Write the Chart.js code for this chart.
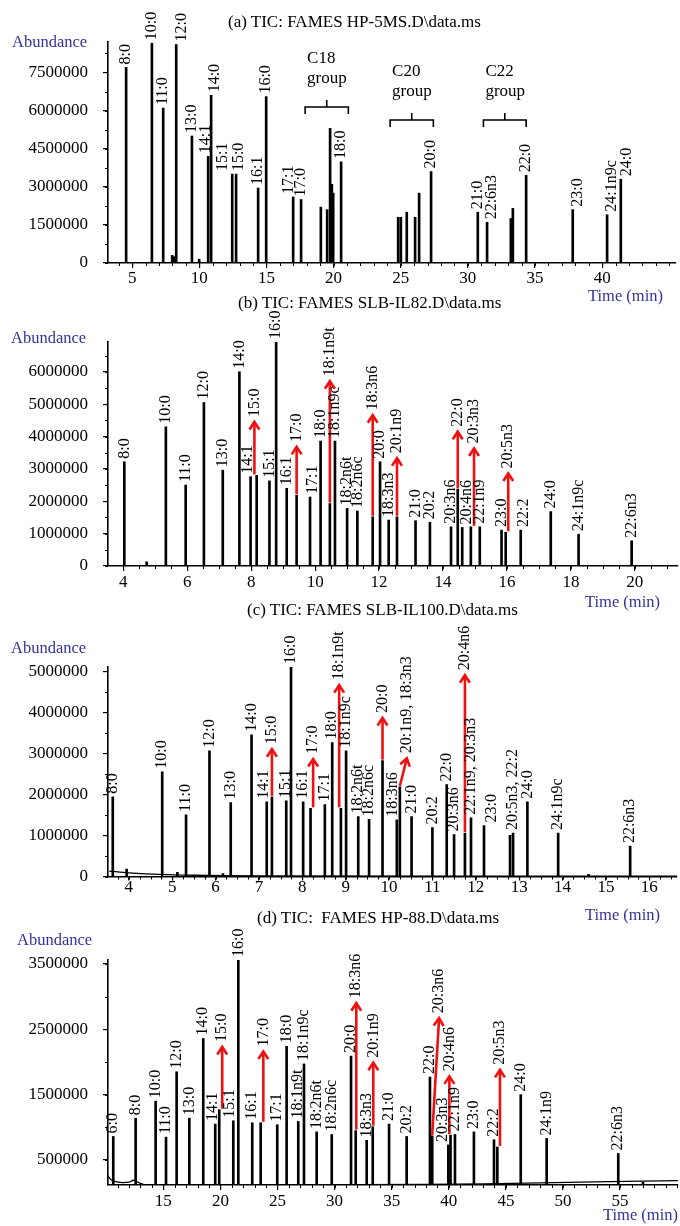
<!DOCTYPE html>
<html><head><meta charset="utf-8">
<script src="https://cdn.jsdelivr.net/npm/chart.js@4.4.1/dist/chart.umd.min.js"></script>
<style>
html,body{margin:0;padding:0;background:#fff;}
#wrap{position:relative;width:680px;height:1226px;overflow:hidden;background:#fff;}
canvas{position:absolute;left:0;}
.t{position:absolute;white-space:pre;font-family:'Liberation Serif','Times New Roman',serif;line-height:1;z-index:2;}
.title{font-size:17px;color:#000;}
.ab{font-size:16.5px;color:#33339c;}
</style></head><body><div id="wrap">
<canvas id="ca" width="680" height="290" style="top:0px"></canvas>
<canvas id="cb" width="680" height="300" style="top:290px"></canvas>
<canvas id="cc" width="680" height="310" style="top:590px"></canvas>
<canvas id="cd" width="680" height="326" style="top:900px"></canvas>
<div class="t title" style="left:228px;top:13px">(a) TIC: FAMES HP-5MS.D\data.ms</div>
<div class="t ab" style="left:12px;top:34px">Abundance</div>
<div class="t ab" style="left:588px;top:288px">Time (min)</div>
<div class="t title" style="left:238px;top:294px">(b) TIC: FAMES SLB-IL82.D\data.ms</div>
<div class="t ab" style="left:11px;top:330px">Abundance</div>
<div class="t ab" style="left:585px;top:594px">Time (min)</div>
<div class="t title" style="left:247px;top:601px">(c) TIC: FAMES SLB-IL100.D\data.ms</div>
<div class="t ab" style="left:11px;top:640px">Abundance</div>
<div class="t ab" style="left:585px;top:907px">Time (min)</div>
<div class="t title" style="left:257px;top:909px">(d) TIC:  FAMES HP-88.D\data.ms</div>
<div class="t ab" style="left:17px;top:932px">Abundance</div>
<div class="t ab" style="left:603px;top:1207px">Time (min)</div>
</div>
<script>
// ---------- Panel (a) HP-5MS ----------
const peakNamesA = ['8:0','10:0','11:0','','','12:0','13:0','','14:1','14:0','15:1','15:0','16:1','16:0','17:1','17:0','','','','','','18:0','','','','','','20:0','21:0','22:6n3','','','22:0','23:0','24:1n9c','24:0'];
const peakTimesA = [4.55,6.47,7.31,7.98,8.1,8.28,9.45,9.99,10.66,10.88,12.45,12.74,14.38,14.98,16.99,17.58,19.05,19.52,19.74,19.87,19.97,20.56,24.81,25.01,25.45,26.07,26.37,27.26,30.74,31.43,33.2,33.35,34.34,37.81,40.37,41.39];
const peakHeightsA = [7700000,8650000,6100000,300000,250000,8600000,5000000,150000,4200000,6600000,3500000,3500000,2950000,6550000,2600000,2500000,2200000,2100000,5300000,3100000,2750000,3980000,1800000,1800000,2000000,1800000,2750000,3600000,2000000,1600000,1750000,2150000,3450000,2100000,1900000,3300000];
const xTicksA = [5,10,15,20,25,30,35,40];
const yTicksA = [0,1500000,3000000,4500000,6000000,7500000];
const moveNamesA = ['12:0','14:1','14:0','15:1','15:0','17:1','22:6n3','23:0','24:1n9c','24:0'];
const moveDtA = [0.4,-0.15,0.3,-0.7,0.2,-0.35,0.35,0.37,0.37,0.45];
const moveTopA = [null,null,null,null,null,null,null,null,null,null];
const moveSlantA = [0,0,0,0,0,0,0,0,0,0];
const groupNamesA = ['C18','C20','C22'];
const groupStartA = [17.88,24.21,31.16];
const groupEndA = [21.1,27.43,34.34];
const groupLevelA = [6140000,5630000,5630000];

// ---------- Panel (b) SLB-IL82 ----------
const peakNamesB = ['8:0','','10:0','11:0','12:0','13:0','14:0','14:1','15:0','15:1','16:0','16:1','17:0','17:1','18:0','18:1n9t','18:1n9c','18:2n6t','18:2n6c','18:3n6','20:0','18:3n3','20:1n9','21:0','20:2','20:3n6','22:0','20:4n6','20:3n3','22:1n9','23:0','20:5n3','22:2','24:0','24:1n9c','22:6n3'];
const peakTimesB = [4.03,4.73,5.33,5.95,6.52,7.11,7.63,7.98,8.17,8.57,8.78,9.11,9.42,9.84,10.17,10.46,10.62,11.0,11.32,11.8,12.03,12.3,12.56,13.14,13.59,14.25,14.46,14.6,14.87,15.15,15.83,15.96,16.43,17.37,18.24,19.9];
const peakHeightsB = [3220000,130000,4300000,2500000,5050000,2960000,6000000,2760000,2800000,2630000,6920000,2400000,2190000,2130000,3860000,1930000,3860000,1780000,1700000,1520000,3220000,1420000,1520000,1400000,1350000,1210000,2380000,1190000,1210000,1210000,1110000,1040000,1110000,1680000,980000,780000];
const xTicksB = [4,6,8,10,12,14,16,18,20];
const yTicksB = [0,1000000,2000000,3000000,4000000,5000000,6000000];
const moveNamesB = ['14:1','15:0','17:0','17:1','18:1n9t','18:3n6','20:1n9','22:0','20:4n6','20:3n3','20:5n3','22:2'];
const moveDtB = [-0.1,-0.07,0,0.1,0,0,0,0,0.13,0.1,0.08,0.1];
const moveTopB = [null,4450000,3680000,null,5710000,4660000,3330000,4150000,null,3630000,2860000,null];
const moveSlantB = [0,0,0,0,0,0,0,0,0,0,0,0];

// ---------- Panel (c) SLB-IL100 ----------
const peakNamesC = ['8:0','','10:0','','11:0','12:0','','13:0','14:0','14:1','15:0','15:1','16:0','16:1','17:0','17:1','18:0','18:1n9t','18:1n9c','18:2n6t','18:2n6c','20:0','18:3n6','20:1n9, 18:3n3','21:0','20:2','22:0','20:3n6','20:4n6','22:1n9, 20:3n3','23:0','','20:5n3, 22:2','24:0','24:1n9c','','22:6n3'];
const peakTimesC = [3.63,3.95,4.77,5.12,5.32,5.86,6.17,6.35,6.83,7.18,7.3,7.63,7.74,8.02,8.19,8.52,8.69,8.89,9.01,9.29,9.54,9.85,10.18,10.25,10.52,11.0,11.33,11.5,11.75,11.89,12.19,12.79,12.86,13.19,13.9,14.6,15.56];
const peakHeightsC = [1940000,180000,2550000,100000,1500000,3060000,70000,1800000,3450000,1820000,1940000,1840000,5100000,1820000,1660000,1750000,3260000,1660000,3060000,1460000,1390000,2820000,1380000,2180000,1460000,1190000,2240000,1020000,1060000,1430000,1240000,1000000,1060000,1820000,1060000,50000,740000];
const baselineTimesC = [3.55,4.0,4.7,5.5,7.0,16.64];
const baselineValsC = [130000,90000,50000,30000,15000,10000];
const xTicksC = [4,5,6,7,8,9,10,11,12,13,14,15,16];
const yTicksC = [0,1000000,2000000,3000000,4000000,5000000];
const moveNamesC = ['14:1','15:0','17:0','18:1n9t','20:0','18:3n6','20:1n9, 18:3n3','20:4n6','23:0'];
const moveDtC = [-0.06,0,0.06,-0.04,0,-0.09,0.16,0,0.18];
const moveTopC = [null,3100000,2860000,4660000,3860000,null,2880000,4900000,null];
const moveSlantC = [0,0,0,0,0,0,1,0,0];

// ---------- Panel (d) HP-88 ----------
const peakNamesD = ['6:0','8:0','10:0','11:0','12:0','13:0','14:0','14:1','15:0','15:1','16:0','16:1','17:0','17:1','18:0','18:1n9t','18:1n9c','18:2n6t','18:2n6c','20:0','18:3n6','18:3n3','20:1n9','21:0','20:2','22:0','20:3n6','20:3n3','20:4n6','22:1n9','23:0','22:2','20:5n3','24:0','24:1n9','22:6n3',''];
const peakTimesD = [10.62,12.58,14.33,15.24,16.17,17.28,18.5,19.55,19.9,21.13,21.57,22.79,23.53,24.98,25.8,26.82,27.32,28.43,29.75,31.44,31.85,32.81,33.34,34.77,36.31,38.35,38.55,39.96,40.15,40.54,42.2,43.96,44.25,46.3,48.57,54.84,57.0];
const peakHeightsD = [860000,1140000,1400000,850000,1850000,1140000,2360000,1050000,1270000,1100000,3560000,1070000,1070000,1040000,2240000,1090000,1970000,930000,890000,2090000,950000,800000,1010000,1050000,860000,1770000,870000,730000,880000,890000,930000,810000,700000,1500000,830000,600000,160000];
const baselineTimesD = [10.16,10.4,11.0,12.0,12.4,12.9,13.4,38,48,60.07];
const baselineValsD = [260000,200000,160000,160000,190000,150000,120000,125000,150000,185000];
const xTicksD = [15,20,25,30,35,40,45,50,55];
const yTicksD = [500000,1500000,2500000,3500000];
const moveNamesD = ['14:1','15:0','15:1','17:0','18:3n6','20:1n9','20:3n6','20:3n3','20:4n6','20:5n3'];
const moveDtD = [-0.2,0.26,-0.3,0.23,0.05,0.05,0.6,-0.5,-0.1,0.23];
const moveTopD = [null,2230000,null,2160000,2900000,1990000,2670000,null,1780000,1880000];
const moveSlantD = [0,0,0,0,0,0,1,0,0,0];

Chart.defaults.font.family = "'Liberation Serif','Times New Roman',serif";
Chart.defaults.color = '#000';

function drawArrow(ctx, x0, y0, x1, y1) {
  ctx.save();
  ctx.strokeStyle = '#f01010'; ctx.lineWidth = 2.6; ctx.lineCap = 'butt'; ctx.lineJoin = 'miter';
  ctx.beginPath(); ctx.moveTo(x0, y0); ctx.lineTo(x1, y1); ctx.stroke();
  const a = Math.atan2(y1 - y0, x1 - x0), L = 9, w = 0.58;
  ctx.beginPath();
  ctx.moveTo(x1 - L * Math.cos(a - w), y1 - L * Math.sin(a - w));
  ctx.lineTo(x1, y1);
  ctx.lineTo(x1 - L * Math.cos(a + w), y1 - L * Math.sin(a + w));
  ctx.stroke();
  ctx.restore();
}

function makeOverlay(P) {
  return {
    id: 'overlay' + P.key,
    afterDatasetsDraw(chart) {
      const ctx = chart.ctx, xs = chart.scales.x, ys = chart.scales.y;
      ctx.save();
      ctx.strokeStyle = '#000'; ctx.lineWidth = 1;
      for (let k = Math.ceil(xs.min / P.minorX - 1e-9); k * P.minorX <= xs.max + 1e-9; k++) {
        const px = Math.round(xs.getPixelForValue(k * P.minorX)) + 0.5;
        ctx.beginPath(); ctx.moveTo(px, ys.bottom); ctx.lineTo(px, ys.bottom + 3); ctx.stroke();
      }
      for (let k = Math.ceil(ys.min / P.minorY - 1e-9); k * P.minorY <= ys.max + 1e-9; k++) {
        const py = Math.round(ys.getPixelForValue(k * P.minorY)) + 0.5;
        ctx.beginPath(); ctx.moveTo(xs.left, py); ctx.lineTo(xs.left - 3, py); ctx.stroke();
      }
      ctx.font = '16px "Liberation Serif", serif';
      P.names.forEach((name, i) => {
        if (!name) return;
        const t = P.times[i], h = P.heights[i];
        const px = xs.getPixelForValue(t), py = ys.getPixelForValue(h);
        let lx = px, ly = py - 3;
        const k = P.moveNames.indexOf(name);
        if (k >= 0) {
          lx = xs.getPixelForValue(t + P.moveDt[k]);
          if (P.moveTop[k] !== null) {
            const ty = ys.getPixelForValue(P.moveTop[k]);
            drawArrow(ctx, P.moveSlant[k] ? px : lx, py - 1, lx, ty);
            ly = ty - 5;
          }
        }
        ctx.save();
        ctx.translate(lx, ly); ctx.rotate(-Math.PI / 2);
        ctx.textAlign = 'left'; ctx.textBaseline = 'middle'; ctx.fillStyle = '#000';
        ctx.fillText(name, 0, 0);
        ctx.restore();
      });
      if (P.groupNames) {
        ctx.strokeStyle = '#000'; ctx.lineWidth = 1.6; ctx.fillStyle = '#000';
        ctx.font = '17px "Liberation Serif", serif';
        ctx.textAlign = 'left'; ctx.textBaseline = 'alphabetic';
        P.groupNames.forEach((g, i) => {
          const x0 = xs.getPixelForValue(P.groupStart[i]), x1 = xs.getPixelForValue(P.groupEnd[i]);
          const y0 = ys.getPixelForValue(P.groupLevel[i]), mid = (x0 + x1) / 2;
          ctx.beginPath(); ctx.moveTo(x0, y0 + 7); ctx.lineTo(x0, y0); ctx.lineTo(x1, y0); ctx.lineTo(x1, y0 + 7); ctx.stroke();
          ctx.beginPath(); ctx.moveTo(mid, y0); ctx.lineTo(mid, y0 - 7); ctx.stroke();
          ctx.fillText(g, x0 + 2, y0 - 44);
          ctx.fillText('group', x0 + 2, y0 - 24);
        });
      }
      ctx.restore();
    }
  };
}

function makeChart(id, P) {
  const datasets = [{
    type: 'bar',
    data: P.times.map((t, i) => ({ x: t, y: P.heights[i] })),
    backgroundColor: '#000', borderWidth: 0, barThickness: 2, order: 1
  }];
  if (P.baseT) {
    datasets.push({
      type: 'line',
      data: P.baseT.map((t, i) => ({ x: t, y: P.baseV[i] })),
      borderColor: '#000', borderWidth: 1.3, pointRadius: 0, tension: 0.3, order: 0
    });
  }
  return new Chart(document.getElementById(id), {
    type: 'bar',
    data: { datasets },
    options: {
      responsive: false, animation: false, devicePixelRatio: 1,
      layout: { padding: { top: P.padTop, right: P.padRight, left: 0, bottom: 0 } },
      plugins: { legend: { display: false }, tooltip: { enabled: false }, title: { display: false } },
      scales: {
        x: {
          type: 'linear', min: P.xMin, max: P.xMax, offset: false,
          grid: { offset: false, drawOnChartArea: false, drawTicks: true, tickLength: P.xTl, color: '#000', lineWidth: 1.2 },
          border: { display: true, color: '#000', width: 1.5 },
          afterBuildTicks: s => { s.ticks = P.xTicks.map(v => ({ value: v })); },
          afterFit: s => { s.height = P.xAxisH; },
          ticks: { autoSkip: false, maxRotation: 0, padding: P.xPad, color: '#000', font: { size: 17, lineHeight: 1 }, callback: v => String(v) }
        },
        y: {
          type: 'linear', min: P.yMin, max: P.yMax,
          grid: { drawOnChartArea: false, drawTicks: true, tickLength: 5, color: '#000', lineWidth: 1.2 },
          border: { display: true, color: '#000', width: 1.6 },
          afterBuildTicks: s => { s.ticks = P.yTicks.map(v => ({ value: v })); },
          afterFit: s => { s.width = 108; },
          ticks: { padding: 15, color: '#000', font: { size: 17, lineHeight: 1 }, callback: v => String(v) }
        }
      }
    },
    plugins: [makeOverlay(P)]
  });
}

makeChart('ca', {
  key: 'a', names: peakNamesA, times: peakTimesA, heights: peakHeightsA,
  xTicks: xTicksA, yTicks: yTicksA, xMin: 3.2, xMax: 45.5, yMin: 0, yMax: 8700000,
  padTop: 42, padRight: 4, xAxisH: 27, xTl: 5, xPad: 1.7, minorX: 1, minorY: 750000,
  moveNames: moveNamesA, moveDt: moveDtA, moveTop: moveTopA, moveSlant: moveSlantA,
  groupNames: groupNamesA, groupStart: groupStartA, groupEnd: groupEndA, groupLevel: groupLevelA
});
makeChart('cb', {
  key: 'b', names: peakNamesB, times: peakTimesB, heights: peakHeightsB,
  xTicks: xTicksB, yTicks: yTicksB, xMin: 3.52, xMax: 21.35, yMin: 0, yMax: 6920000,
  padTop: 52, padRight: 2, xAxisH: 24, xTl: 5, xPad: 3, minorX: 0.5, minorY: 500000,
  moveNames: moveNamesB, moveDt: moveDtB, moveTop: moveTopB, moveSlant: moveSlantB
});
makeChart('cc', {
  key: 'c', names: peakNamesC, times: peakTimesC, heights: peakHeightsC,
  baseT: baselineTimesC, baseV: baselineValsC,
  xTicks: xTicksC, yTicks: yTicksC, xMin: 3.52, xMax: 16.64, yMin: 0, yMax: 5100000,
  padTop: 77, padRight: 3, xAxisH: 21, xTl: 4, xPad: -1, minorX: 0.25, minorY: 500000,
  moveNames: moveNamesC, moveDt: moveDtC, moveTop: moveTopC, moveSlant: moveSlantC
});
makeChart('cd', {
  key: 'd', names: peakNamesD, times: peakTimesD, heights: peakHeightsD,
  baseT: baselineTimesD, baseV: baselineValsD,
  xTicks: xTicksD, yTicks: yTicksD, xMin: 10.16, xMax: 60.07, yMin: 117000, yMax: 3561000,
  padTop: 60, padRight: 2, xAxisH: 41, xTl: 5, xPad: 3.2, minorX: 1, minorY: 500000,
  moveNames: moveNamesD, moveDt: moveDtD, moveTop: moveTopD, moveSlant: moveSlantD
});
</script>
</body></html>
